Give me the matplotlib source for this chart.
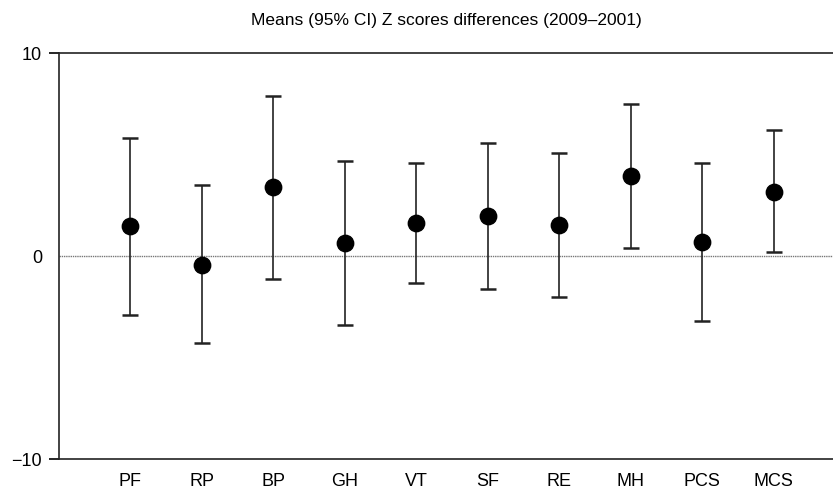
import numpy as np
import matplotlib
matplotlib.use("Agg")
import matplotlib.pyplot as plt

plt.rcParams["font.family"] = ["Liberation Sans", "DejaVu Sans"]

labels = ["PF", "RP", "BP", "GH", "VT", "SF", "RE", "MH", "PCS", "MCS"]
means = [1.48, -0.41, 3.42, 0.66, 1.63, 1.99, 1.53, 3.96, 0.71, 3.19]
upper = [5.81, 3.51, 7.90, 4.70, 4.61, 5.60, 5.11, 7.50, 4.61, 6.22]
lower = [-2.91, -4.29, -1.10, -3.40, -1.30, -1.61, -2.00, 0.39, -3.19, 0.21]

x = np.arange(1, len(labels) + 1)
m = np.array(means)
yerr = [m - np.array(lower), np.array(upper) - m]

fig = plt.figure(figsize=(8.33, 4.91), dpi=100)
ax = fig.add_axes([0.0708, 0.0646, 0.9292, 0.8268])

ax.axhline(0, color="#777777", ls=(0, (1, 0.6)), lw=1.0, zorder=0)
ax.errorbar(x, m, yerr=yerr, fmt="o", color="black", ecolor="#222222", ms=11.8,
            elinewidth=1.2, capsize=5.5, capthick=1.8)

ax.set_xlim(0, 10.83)
ax.set_ylim(-10, 10)
ax.set_yticks([-10, 0, 10])
ax.set_yticklabels(["\u221210", "0", "10"])
ax.set_xticks(x)
ax.set_xticklabels(labels)
ax.tick_params(axis="x", length=0, pad=10, labelsize=13)
ax.tick_params(axis="y", length=7.2, width=1.2, pad=5, labelsize=13)
ax.yaxis.get_major_ticks()[1].tick1line.set_visible(False)
ax.spines["right"].set_visible(False)
for s in ["left", "top", "bottom"]:
    ax.spines[s].set_linewidth(1.2)
    ax.spines[s].set_color("#222222")

fig.text(446 / 833, 1 - 20 / 491, "Means (95% CI) Z scores differences (2009\u20132001)",
         ha="center", va="center", fontsize=12.5)

fig.savefig("out.png", dpi=100)
